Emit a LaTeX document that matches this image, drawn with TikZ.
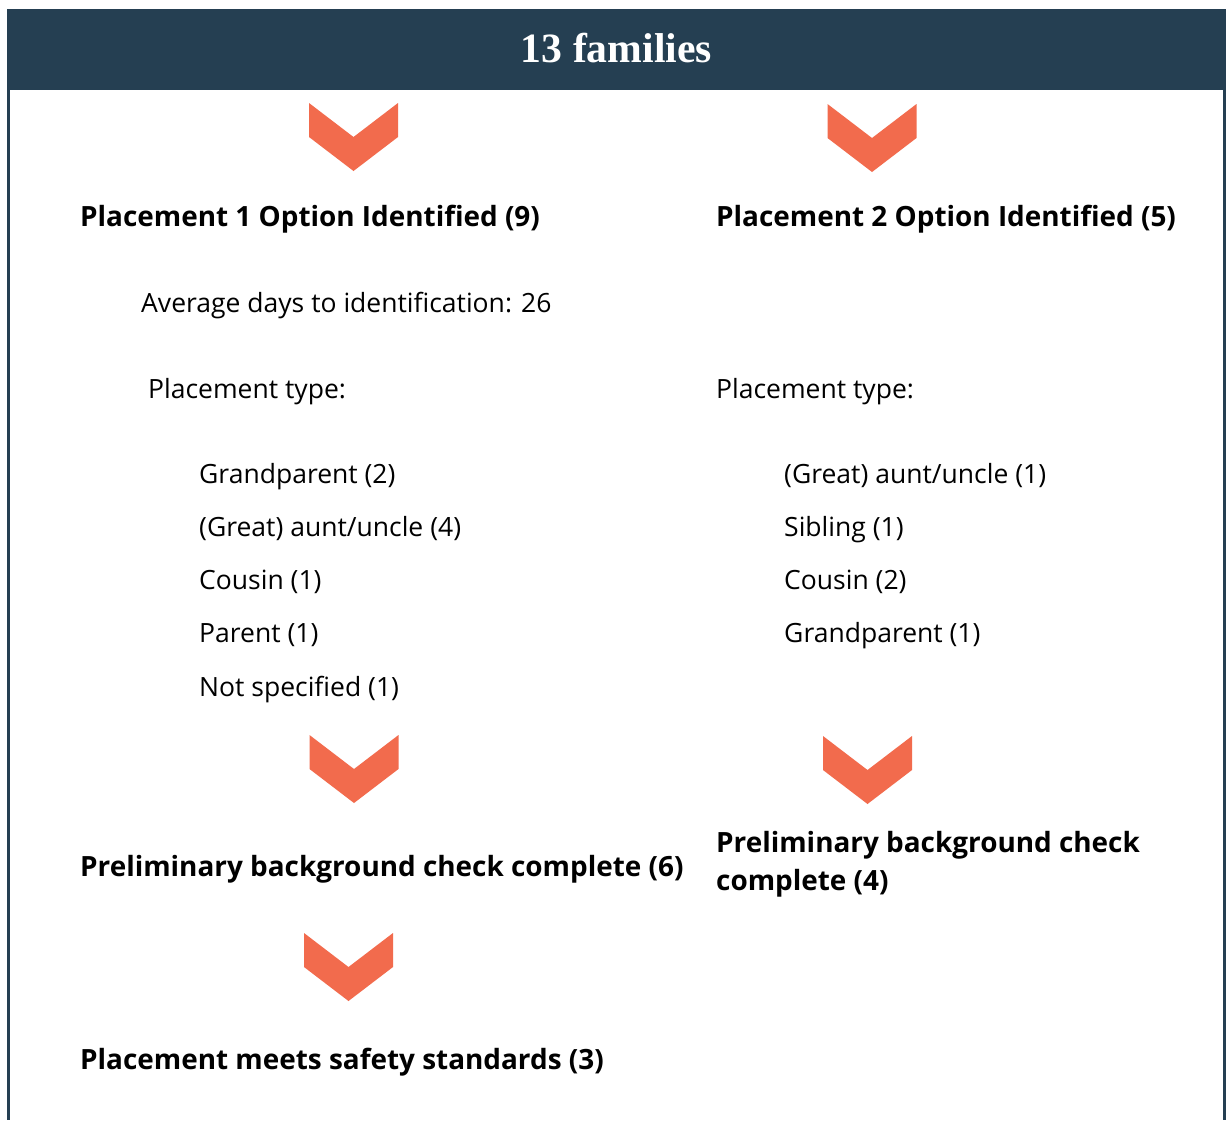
\documentclass[tikz,border=0pt]{standalone}
\usepackage{fontspec}
\setmainfont{Open Sans}
\newfontfamily\headfont{Liberation Serif}
\definecolor{navy}{HTML}{253F52}
\definecolor{chevorange}{HTML}{F26B4D}
\begin{document}
\begin{tikzpicture}[x=1pt,y=-1pt,
  heading/.style={anchor=base west,inner sep=0pt,font=\fontsize{27.9}{38}\selectfont\bfseries},
  body/.style={anchor=base west,inner sep=0pt,font=\fontsize{26.5}{34}\selectfont},
  chevronshape/.pic={\fill[chevorange] (-44.5,0) -- (0,34) -- (44.5,0) -- (44.5,34) -- (0,68) -- (-44.5,34) -- cycle;}]
\useasboundingbox (0,0) rectangle (1228,1120);
\fill[white] (0,0) rectangle (1228,1120);
\fill[navy] (7,9) rectangle (1226,90);
\fill[navy] (7,90) rectangle (10,1120);
\fill[navy] (1223,90) rectangle (1226,1120);
\node[anchor=base,text=white,inner sep=0pt,font=\headfont\fontsize{41.7}{48}\selectfont\bfseries] (title) at (616.5,62) {13 families};
% chevrons
\pic at (353.5,103) {chevronshape};
\pic at (872,104) {chevronshape};
\pic at (354,735) {chevronshape};
\pic at (867.5,736) {chevronshape};
\pic at (348.5,933) {chevronshape};
% left column
\node[heading] (p1) at (80,226) {Placement 1 Option Identified (9)};
\node[body] (avg) at (141,312) {Average days to identification: 26};
\node[body] (t1) at (148,398) {Placement type:};
\node[body] (l1) at (199,483) {Grandparent (2)};
\node[body] (l2) at (199,536) {(Great) aunt/uncle (4)};
\node[body] (l3) at (199,589) {Cousin (1)};
\node[body] (l4) at (199,642) {Parent (1)};
\node[body] (l5) at (199,696) {Not specified (1)};
\node[heading] (pre1) at (80,876) {Preliminary background check complete (6)};
\node[heading] (safe1) at (80,1069) {Placement meets safety standards (3)};
% right column
\node[heading] (p2) at (716,226) {Placement 2 Option Identified (5)};
\node[body] (t2) at (716,398) {Placement type:};
\node[body] (r1) at (784,483) {(Great) aunt/uncle (1)};
\node[body] (r2) at (784,536) {Sibling (1)};
\node[body] (r3) at (784,589) {Cousin (2)};
\node[body] (r4) at (784,642) {Grandparent (1)};
\node[heading] (pre2a) at (716,852) {Preliminary background check};
\node[heading] (pre2b) at (716,890) {complete (4)};
\end{tikzpicture}
\end{document}
